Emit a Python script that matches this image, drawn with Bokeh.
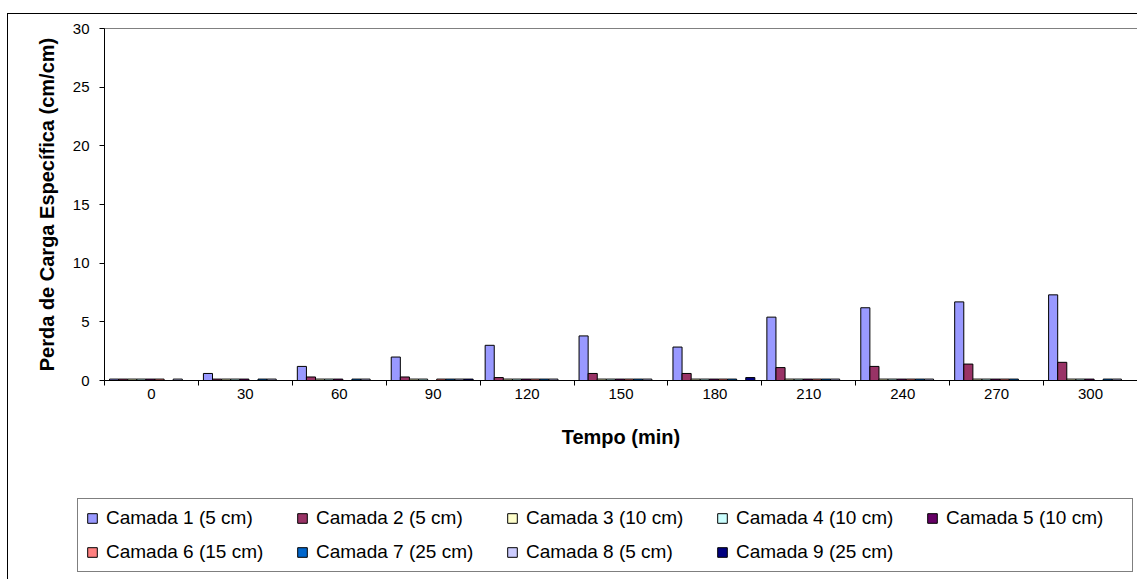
from bokeh.plotting import figure
from bokeh.layouts import column
from bokeh.models import ColumnDataSource, FixedTicker, Legend, LegendItem, Range1d
from bokeh.transform import dodge
from bokeh.embed import file_html
from bokeh.resources import INLINE

# ---- data ----
tempo = [0, 30, 60, 90, 120, 150, 180, 210, 240, 270, 300]
y_ticks = [0, 5, 10, 15, 20, 25, 30]

camada_1 = [0.12, 0.6, 1.2, 2.0, 3.0, 3.8, 2.85, 5.4, 6.2, 6.7, 7.3]
camada_2 = [0.12, 0.12, 0.3, 0.3, 0.25, 0.6, 0.6, 1.1, 1.2, 1.4, 1.55]
camada_3 = [0.12, 0.12, 0.12, 0.12, 0.12, 0.12, 0.12, 0.12, 0.12, 0.12, 0.12]
camada_4 = [0.12, 0.12, 0.12, 0.12, 0.12, 0.12, 0.12, 0.12, 0.12, 0.12, 0.12]
camada_5 = [0.12, 0.12, 0.12, 0.0, 0.12, 0.12, 0.12, 0.12, 0.12, 0.12, 0.12]
camada_6 = [0.12, 0.0, 0.0, 0.12, 0.12, 0.12, 0.12, 0.12, 0.12, 0.12, 0.0]
camada_7 = [0.0, 0.12, 0.12, 0.12, 0.12, 0.12, 0.12, 0.12, 0.12, 0.12, 0.12]
camada_8 = [0.12, 0.12, 0.12, 0.12, 0.12, 0.12, 0.0, 0.12, 0.12, 0.0, 0.12]
camada_9 = [0.0, 0.0, 0.0, 0.12, 0.0, 0.0, 0.25, 0.0, 0.0, 0.0, 0.0]

series_names = [
    "Camada 1 (5 cm)", "Camada 2 (5 cm)", "Camada 3 (10 cm)", "Camada 4 (10 cm)",
    "Camada 5 (10 cm)", "Camada 6 (15 cm)", "Camada 7 (25 cm)", "Camada 8 (5 cm)",
    "Camada 9 (25 cm)",
]
series_values = [camada_1, camada_2, camada_3, camada_4, camada_5,
                 camada_6, camada_7, camada_8, camada_9]
series_colors = ["#9999FF", "#993366", "#FFFFCC", "#CCFFFF", "#660066",
                 "#FF8080", "#0066CC", "#CCCCFF", "#000080"]

FONT = "Liberation Sans"

# ---------------- main chart ----------------
W = 1130
p = figure(width=W, height=466, output_backend="svg", toolbar_location=None, title=None,
           x_range=Range1d(-15, 315), y_range=Range1d(0, 30),
           min_border_left=96, min_border_right=1, min_border_top=14, min_border_bottom=100)
p.frame_align = False
p.styles = {"border-left": "1px solid black", "border-top": "1px solid black",
            "margin-left": "7px", "margin-top": "13px"}

p.background_fill_color = "white"
p.border_fill_color = "white"
p.outline_line_color = "#808080"
p.grid.visible = False

step = tempo[1] - tempo[0]
frame_px = 1033.0
cat_px = frame_px / len(tempo)
bar_px = 9.1
bw = step * bar_px / cat_px

sources = []
for j, (vals, col) in enumerate(zip(series_values, series_colors)):
    src = ColumnDataSource(dict(x=tempo, top=vals))
    sources.append(src)
    off = (bar_px * j - 37.4) * step / cat_px
    p.vbar(x=dodge("x", off, range=p.x_range), top="top", bottom=0, width=bw,
           source=src, fill_color=col, line_color="black", line_width=1)

# x axis
bounds = [t - step / 2 for t in tempo] + [tempo[-1] + step / 2]
xa = p.xaxis[0]
xa.ticker = FixedTicker(ticks=tempo, minor_ticks=bounds)
xa.major_tick_out = 0
xa.major_tick_in = 0
xa.minor_tick_out = 5
xa.minor_tick_in = 0
xa.minor_tick_line_color = "black"
xa.axis_line_color = "black"
xa.major_label_standoff = 3
xa.major_label_text_font = FONT
xa.major_label_text_font_size = "15px"
xa.major_label_text_color = "black"
xa.axis_label = "Tempo (min)"
xa.axis_label_text_font = FONT
xa.axis_label_text_font_size = "20px"
xa.axis_label_text_font_style = "bold"
xa.axis_label_text_color = "black"
xa.axis_label_standoff = 24

ya = p.yaxis[0]
ya.ticker = FixedTicker(ticks=y_ticks)
ya.major_tick_out = 5
ya.major_tick_in = 0
ya.minor_tick_out = 0
ya.minor_tick_in = 0
ya.axis_line_color = "black"
ya.major_tick_line_color = "black"
ya.major_label_standoff = 10
ya.major_label_text_font = FONT
ya.major_label_text_font_size = "15px"
ya.major_label_text_color = "black"
ya.axis_label = "Perda de Carga Específica (cm/cm)"
ya.axis_label_text_font = FONT
ya.axis_label_text_font_size = "20px"
ya.axis_label_text_font_style = "bold"
ya.axis_label_text_color = "black"
ya.axis_label_standoff = 12

# ---------------- legend strip ----------------
# the proxy bars of this strip lie entirely behind the opaque legend box
lg = figure(width=W, height=100, output_backend="svg", toolbar_location=None, title=None,
            x_range=Range1d(-40, 330), y_range=Range1d(-5, 20),
            x_axis_type=None, y_axis_type=None,
            min_border_left=0, min_border_right=0, min_border_top=0, min_border_bottom=0)
lg.frame_align = False
lg.styles = {"border-left": "1px solid black", "margin-left": "7px"}
lg.outline_line_color = None
lg.grid.visible = False
lg.background_fill_color = "white"
lg.border_fill_color = "white"

items = []
for name, src, col in zip(series_names, sources, series_colors):
    r = lg.vbar(x="x", top="top", bottom=0, width=bw, source=src,
                fill_color=col, line_color="black", line_width=1)
    items.append(LegendItem(label=name, renderers=[r]))

legend = Legend(items=items, location=(69, 7), orientation="horizontal", ncols=5,
                glyph_width=12, glyph_height=12, label_standoff=8, spacing=12,
                padding=8, label_width=178, label_height=20, margin=0,
                label_text_font=FONT, label_text_font_size="19px",
                label_text_color="black",
                border_line_color="black", border_line_width=1,
                background_fill_color="white", background_fill_alpha=1.0)
lg.add_layout(legend)

layout = column(p, lg, spacing=0)
open("out.html", "w").write(file_html(layout, INLINE))
